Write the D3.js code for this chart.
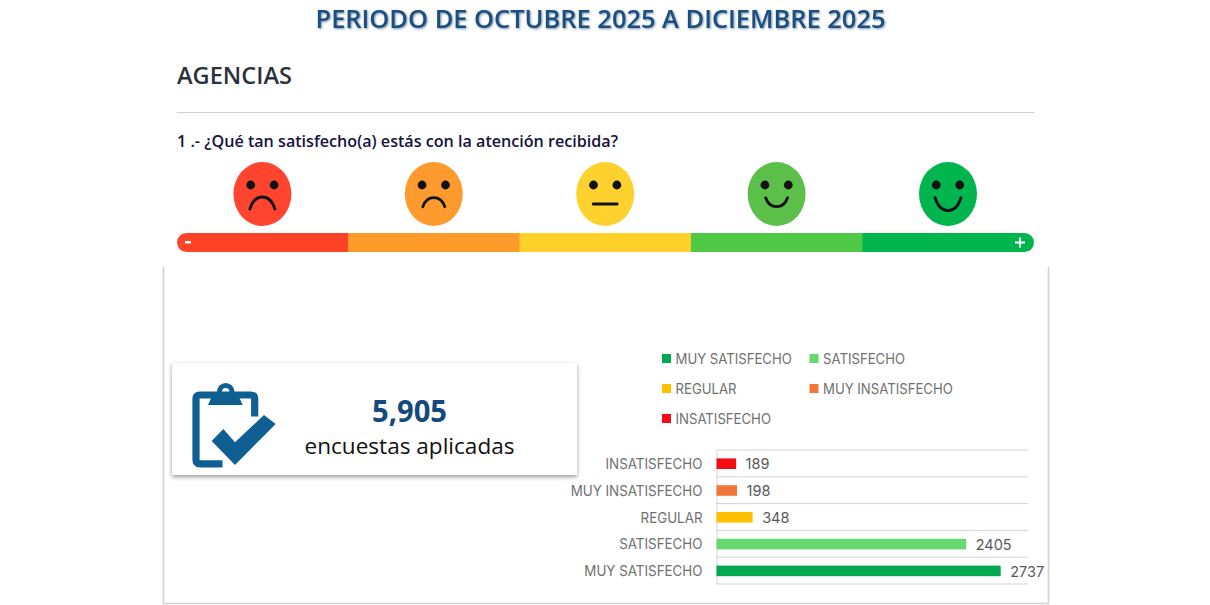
<!DOCTYPE html>
<html>
<head>
<meta charset="utf-8">
<script src="https://cdn.jsdelivr.net/npm/d3@7"></script>
<style>
html,body{margin:0;padding:0;background:#fff;}
svg{display:block;}
</style>
</head>
<body>
<svg id="chart" width="1210" height="605"></svg>
<script>
// Survey responses, top row of the bar chart first
const categories = ["INSATISFECHO", "MUY INSATISFECHO", "REGULAR", "SATISFECHO", "MUY SATISFECHO"];
const responses = [189, 198, 348, 2405, 2737];
const barColors = ["#f20d14", "#f2763a", "#ffc000", "#66d96e", "#00a84f"];

// Legend order, two columns per row
const legendLabels = ["MUY SATISFECHO", "SATISFECHO", "REGULAR", "MUY INSATISFECHO", "INSATISFECHO"];
const legendColors = ["#00a84f", "#66d96e", "#ffc000", "#f2763a", "#f20d14"];

// Satisfaction scale, from worst to best
const scaleColors = ["#ff4326", "#ff9a2b", "#ffd22b", "#4fc845", "#00b54e"];
const faceColors = ["#ff4530", "#ff9b2e", "#ffd12e", "#5cbf4a", "#00b54e"];

// Mouth of each face: half width, end height, bulge (negative frowns)
const mouthHalf = [12.5, 11, 12, 11, 13];
const mouthEnd = [15, 12.7, 10, 3.7, 3.7];
const mouthBulge = [-16, -12, 0, 12, 17.3];

const titleText = "PERIODO DE OCTUBRE 2025 A DICIEMBRE 2025";
const sectionText = "AGENCIAS";
const questionText = "1 .- ¿Qué tan satisfecho(a) estás con la atención recibida?";
const totalText = "5,905";
const totalCaption = "encuestas aplicadas";

const svg = d3.select("#chart");
const defs = svg.append("defs");

const soft = defs.append("filter").attr("id", "cardShadow")
  .attr("x", "-5%").attr("y", "-10%").attr("width", "110%").attr("height", "125%");
soft.append("feDropShadow").attr("dx", 0).attr("dy", 2).attr("stdDeviation", 2.2)
  .attr("flood-color", "#000").attr("flood-opacity", 0.4);

const titleShadow = defs.append("filter").attr("id", "titleShadow")
  .attr("x", "-5%").attr("y", "-30%").attr("width", "110%").attr("height", "170%");
titleShadow.append("feDropShadow").attr("dx", 1).attr("dy", 1).attr("stdDeviation", 0.9)
  .attr("flood-color", "#4d6f8f").attr("flood-opacity", 0.75);

const clip = defs.append("clipPath").attr("id", "scaleClip");
clip.append("rect").attr("x", 177).attr("y", 233).attr("width", 857).attr("height", 19).attr("rx", 9.5);

const headingFont = "'Open Sans', 'Noto Sans', sans-serif";
const chartFont = "'Inter', 'Noto Sans', sans-serif";

// Narrow a text to a share of its natural width, keeping its height
function condense(selection, share) {
  selection.each(function () {
    this.setAttribute("textLength", this.getComputedTextLength() * share);
    this.setAttribute("lengthAdjust", "spacingAndGlyphs");
  });
}

// Header
svg.append("text").attr("x", 600.5).attr("y", 28).attr("text-anchor", "middle")
  .attr("font-family", headingFont).attr("font-size", 25).attr("font-weight", 560)
  .attr("textLength", 570).attr("lengthAdjust", "spacingAndGlyphs")
  .attr("fill", "#1b4f80").attr("filter", "url(#titleShadow)").text(titleText);

svg.append("text").attr("x", 177).attr("y", 84)
  .attr("font-family", headingFont).attr("font-size", 24).attr("font-weight", 600)
  .attr("textLength", 115).attr("lengthAdjust", "spacingAndGlyphs")
  .attr("fill", "#2b323b").text(sectionText);

svg.append("line").attr("x1", 177).attr("x2", 1034).attr("y1", 112.5).attr("y2", 112.5)
  .attr("stroke", "#cfcfcf").attr("stroke-width", 1);

svg.append("text").attr("x", 177).attr("y", 147)
  .attr("font-family", headingFont).attr("font-size", 17).attr("font-weight", 600)
  .attr("textLength", 441).attr("lengthAdjust", "spacingAndGlyphs")
  .attr("fill", "#17123f").text(questionText);

// Colour scale and faces
const scaleBand = d3.scaleBand().domain(d3.range(scaleColors.length)).range([176.7, 1033.7]);
const scaleG = svg.append("g").attr("clip-path", "url(#scaleClip)");
scaleG.selectAll("rect").data(scaleColors).join("rect")
  .attr("x", (d, i) => scaleBand(i)).attr("y", 233)
  .attr("width", scaleBand.bandwidth() + 0.5).attr("height", 19).attr("fill", d => d);

svg.append("rect").attr("x", 185).attr("y", 241).attr("width", 6).attr("height", 2.4).attr("fill", "#fff");
svg.append("path").attr("d", "M1015 242.5h10M1020 237.5v10").attr("stroke", "#fff").attr("stroke-width", 2).attr("fill", "none");

const faces = svg.selectAll("g.face").data(faceColors).join("g").attr("class", "face")
  .attr("transform", (d, i) => `translate(${scaleBand(i) + scaleBand.bandwidth() / 2},194)`);
faces.append("ellipse").attr("rx", 29).attr("ry", 32).attr("fill", d => d);
faces.each(function (d, i) {
  const g = d3.select(this);
  [-11.7, 11.7].forEach(dx => g.append("circle").attr("cx", dx).attr("cy", -9).attr("r", 4.4).attr("fill", "#111"));
  const h = mouthHalf[i], e = mouthEnd[i], b = mouthBulge[i];
  const path = b === 0
    ? `M${-h} ${e}H${h}`
    : `M${-h} ${e}C${-h * 0.6} ${e + b} ${h * 0.6} ${e + b} ${h} ${e}`;
  g.append("path").attr("d", path).attr("fill", "none").attr("stroke", "#111")
    .attr("stroke-width", 2.8).attr("stroke-linecap", "round");
});

// Chart panel: open at the top, grey on the three other sides
svg.append("path").attr("d", "M163.5 267V603.5H1048.5V267")
  .attr("fill", "none").attr("stroke", "#d2d2d2").attr("stroke-width", 1.6);

// Total card
svg.append("rect").attr("x", 172).attr("y", 363).attr("width", 405).attr("height", 112)
  .attr("fill", "#fff").attr("filter", "url(#cardShadow)");

const iconColor = "#0f5f92";
const icon = svg.append("g").attr("fill", "none").attr("stroke", iconColor);
icon.append("path").attr("d", "M222.5 463.8H200Q196 463.8 196 459.8V399Q196 395 200 395H250.7Q254.7 395 254.7 399V416.5")
  .attr("stroke-width", 7.2);
icon.append("circle").attr("cx", 225.7).attr("cy", 391.7).attr("r", 6.3).attr("stroke-width", 5);
icon.append("path").attr("d", "M208 405L211 398H239.5L242.7 405Z").attr("fill", iconColor).attr("stroke", "none");
icon.append("path").attr("d", "M211.7 441L235 465L275.7 424L264 415L235 442.3L223.3 429Z").attr("fill", iconColor).attr("stroke", "none");

svg.append("text").attr("x", 409.5).attr("y", 422).attr("text-anchor", "middle")
  .attr("font-family", headingFont).attr("font-size", 30).attr("font-weight", 700)
  .attr("textLength", 75).attr("lengthAdjust", "spacingAndGlyphs")
  .attr("fill", "#14497c").text(totalText);

svg.append("text").attr("x", 409.5).attr("y", 454).attr("text-anchor", "middle")
  .attr("font-family", headingFont).attr("font-size", 22)
  .attr("textLength", 210).attr("lengthAdjust", "spacingAndGlyphs")
  .attr("fill", "#111").text(totalCaption);

// Legend
const legendX = [662, 809.5];
const legendY = [358.5, 388.5, 418.5];
const legend = svg.selectAll("g.legend").data(legendLabels).join("g").attr("class", "legend")
  .attr("transform", (d, i) => `translate(${legendX[i % 2]},${legendY[Math.floor(i / 2)]})`);
legend.append("rect").attr("x", 0).attr("y", -4.5).attr("width", 9).attr("height", 9)
  .attr("fill", (d, i) => legendColors[i]);
legend.append("text").attr("x", 13.5).attr("y", 5)
  .attr("font-family", chartFont).attr("font-size", 14).attr("fill", "#707070").text(d => d)
  .call(condense, 0.94);

// Bar chart
const x = d3.scaleLinear().domain([0, 3000]).range([716.5, 1028]);
const y = d3.scaleBand().domain(categories).range([450, 584]);

const gridLines = [...categories.map(c => y(c)), 584];
svg.selectAll("line.grid").data(gridLines).join("line").attr("class", "grid")
  .attr("x1", x(0)).attr("x2", x(3000))
  .attr("y1", d => d).attr("y2", d => d)
  .attr("stroke", "#d4d4d4").attr("stroke-width", 1);

const yAxis = svg.append("g").attr("transform", `translate(${x(0)},0)`)
  .call(d3.axisLeft(y).tickSize(0).tickPadding(14));
yAxis.select(".domain").attr("stroke", "#d4d4d4");
yAxis.selectAll("text").attr("font-family", chartFont).attr("font-size", 14).attr("fill", "#707070")
  .attr("dy", "0.4em").call(condense, 0.955);

svg.selectAll("rect.bar").data(responses).join("rect").attr("class", "bar")
  .attr("x", x(0)).attr("y", (d, i) => y(categories[i]) + y.bandwidth() / 2 - 5)
  .attr("width", d => x(d) - x(0)).attr("height", 10.6)
  .attr("fill", (d, i) => barColors[i]);

svg.selectAll("text.value").data(responses).join("text").attr("class", "value")
  .attr("x", d => x(d) + 9.5).attr("y", (d, i) => y(categories[i]) + y.bandwidth() / 2 + 6)
  .attr("font-family", chartFont).attr("font-size", 14.5).attr("fill", "#595959").text(d => d);
</script>
</body>
</html>
